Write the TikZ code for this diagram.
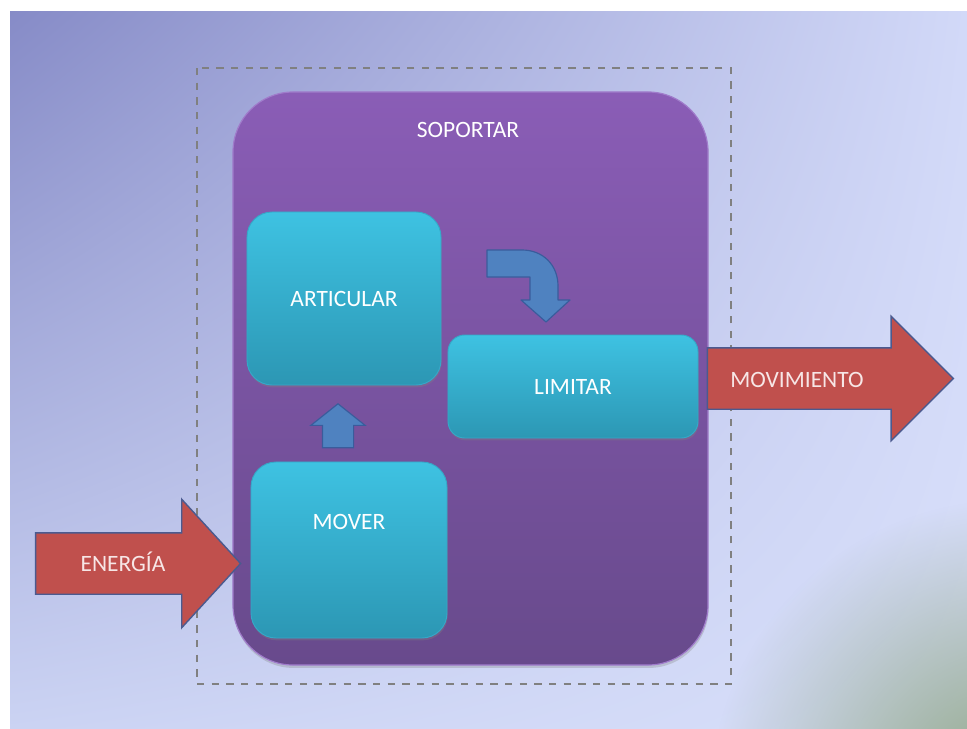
\documentclass[tikz,border=0pt]{standalone}
\usepackage{fontspec}
\setmainfont{Carlito}
\usetikzlibrary{shapes.arrows,fadings,shadows,shadings}

\definecolor{bgul}{HTML}{868BC7}
\definecolor{bgur}{HTML}{D2D9F8}
\definecolor{bgll}{HTML}{CBD3F3}
\definecolor{bglr}{HTML}{D8DFFA}
\definecolor{patchgreen}{HTML}{8DA482}
\definecolor{purpletop}{HTML}{8A5DB6}
\definecolor{purplebot}{HTML}{684A8C}
\definecolor{purpleedge}{HTML}{A07CCB}
\definecolor{cyantop}{HTML}{3EC2E2}
\definecolor{cyanbot}{HTML}{2C97B4}
\definecolor{cyanedge}{HTML}{35A8C8}
\definecolor{arrowred}{HTML}{C0504D}
\definecolor{arrowedge}{HTML}{4B5A8F}
\definecolor{textpink}{HTML}{F7E6E6}
\definecolor{arrowblue}{HTML}{4F82C0}
\definecolor{blueedge}{HTML}{3A5C9C}

\tikzfading[name=patchfade, inner color=transparent!0, outer color=transparent!100]

\begin{document}
\begin{tikzpicture}[x=0.03cm,y=-0.03cm]
\tikzset{
  every node/.style={font=\fontsize{20}{23}\selectfont},
  box/.style={rectangle, inner sep=0pt, top color=cyantop, bottom color=cyanbot,
    draw=cyanedge, line width=0.8pt, text=white,
    drop shadow={shadow xshift=0.6pt, shadow yshift=-2pt, opacity=0.35}},
  flow/.style={single arrow, inner xsep=0pt, inner ysep=0.9cm, text height=0pt,
    text depth=0pt, fill=arrowred, draw=arrowedge, line width=1.2pt},
  flowtext/.style={text=textpink},
  blockup/.style={single arrow, inner xsep=0pt, inner ysep=0.45cm, text height=0pt,
    text depth=0pt, fill=arrowblue, draw=blueedge, line width=1pt},
}
\useasboundingbox (0,0) rectangle (967,729);
\fill[white] (0,0) rectangle (967,729);

% background
\begin{scope}
\clip (10,11) rectangle (967,729);
\shade[upper left=bgul, upper right=bgur, lower left=bgll, lower right=bglr]
  (10,11) rectangle (967,729);
\fill[patchgreen, path fading=patchfade] (1010,800) circle (300);
\end{scope}

% system boundary
\draw[gray, line width=1.6pt, dash pattern=on 0.22cm off 0.22cm] (197,68) rectangle (731,684);

% main block
\node[rectangle, rounded corners=1.8cm, minimum width=14.25cm, minimum height=17.19cm,
  top color=purpletop, bottom color=purplebot, draw=purpleedge, line width=1pt,
  drop shadow={shadow xshift=0.6pt, shadow yshift=-2.5pt, opacity=0.3}] (soportar) at (470.5,378.5) {};
\node[text=white] (soportartxt) at (468,130) {SOPORTAR};

% sub functions
\node[box, rounded corners=0.75cm, minimum width=5.82cm, minimum height=5.19cm] (articular) at (344,298.5) {ARTICULAR};
\node[box, rounded corners=0.5cm, minimum width=7.5cm, minimum height=3.09cm] (limitar) at (573,386.5) {LIMITAR};
\node[box, rounded corners=0.75cm, minimum width=5.88cm, minimum height=5.28cm] (mover) at (349,550) {};
\node[text=white] (movertxt) at (349,522) {MOVER};

% internal flows
\node[blockup, minimum height=1.32cm, single arrow head extend=0.345cm,
  single arrow tip angle=103, rotate=90] (lift) at (338,432) {};
\draw[fill=arrowblue, draw=blueedge, line width=1pt, line join=round]
  (487,250) -- (522,250) .. controls (543,250) and (558,265) .. (558,286)
  -- (558,300) -- (570,300) -- (546,322) -- (521,300) -- (530,300)
  -- (530,277) -- (487,277) -- cycle;

% input and output
\node[flow, minimum height=6.15cm, single arrow head extend=1.005cm,
  single arrow tip angle=95] (energia) at (124,563.5) {};
\node[flowtext] (energiatxt) at (123,562) {ENERGÍA};
\node[flow, minimum height=7.38cm, single arrow head extend=0.945cm,
  single arrow tip angle=90] (movimiento) at (815,378.5) {};
\node[flowtext] (movimientotxt) at (797,380) {MOVIMIENTO};
\end{tikzpicture}
\end{document}
